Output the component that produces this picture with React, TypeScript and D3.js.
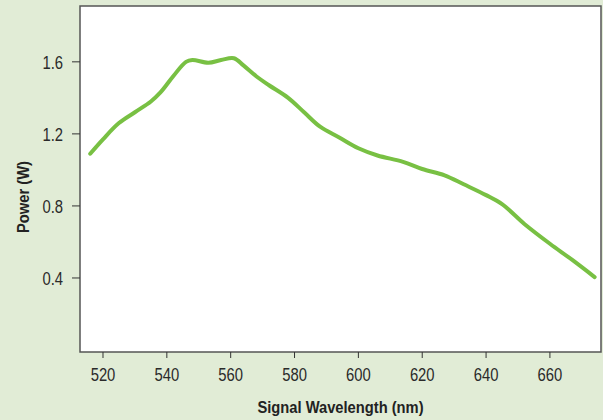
import React from "react";
import * as d3 from "d3";

const wavelengths = [516, 520, 525, 530, 535, 538, 542, 546, 548, 553, 557, 561, 564, 568, 572, 578, 583, 588, 594, 600, 606, 614, 620, 627, 633, 640, 645, 652, 660, 667, 674];
const power = [1.09, 1.17, 1.26, 1.32, 1.38, 1.43, 1.52, 1.6, 1.61, 1.595, 1.61, 1.62, 1.58, 1.52, 1.47, 1.4, 1.32, 1.24, 1.18, 1.12, 1.08, 1.045, 1.005, 0.97, 0.92, 0.86, 0.81, 0.7, 0.59, 0.5, 0.405];
const xTicks = [520, 540, 560, 580, 600, 620, 640, 660];
const yTicks = [0.4, 0.8, 1.2, 1.6];

const W = 603, H = 420;
const M = { left: 80, top: 6, right: 2, bottom: 68 };

export default function App() {
  const x = d3.scaleLinear().domain([512.8, 676]).range([M.left, W - M.right]);
  const y = d3.scaleLinear().domain([-0.011, 1.91]).range([H - M.bottom, M.top]);
  const pts = wavelengths.map((w, i) => [w, power[i]] as [number, number]);
  const line = d3.line<[number, number]>().x(d => x(d[0])).y(d => y(d[1])).curve(d3.curveCatmullRom.alpha(0.5));
  const font = "'Liberation Sans', Arial, sans-serif";
  const x0 = M.left, x1 = W - M.right, y0 = H - M.bottom, y1 = M.top;
  const sx = 0.78;
  return (
    <svg width={W} height={H} style={{ position: "absolute", left: 0, top: 0, display: "block" }}>
      <rect x={0} y={0} width={W} height={H} fill="#e1ecd6" />
      <rect x={x0} y={y1} width={x1 - x0} height={y0 - y1} fill="#ffffff" stroke="#555" strokeWidth={1.5} />
      {xTicks.map(t => (
        <g key={t}>
          <line x1={x(t)} x2={x(t)} y1={y0} y2={y0 + 6} stroke="#333" strokeWidth={1} />
          <text transform={`translate(${x(t)},380.5) scale(${sx},1)`} textAnchor="middle" fontFamily={font} fontSize={19} fill="#2a2a2a">{t}</text>
        </g>
      ))}
      {yTicks.map(t => (
        <g key={t}>
          <line x1={x0 - 8} x2={x0} y1={y(t)} y2={y(t)} stroke="#333" strokeWidth={1} />
          <text transform={`translate(${x0 - 17},${y(t) + 7}) scale(${sx},1)`} textAnchor="end" fontFamily={font} fontSize={19} fill="#2a2a2a">{t.toFixed(1)}</text>
        </g>
      ))}
      <path d={line(pts) || ""} fill="none" stroke="#78c043" strokeWidth={4} strokeLinecap="round" strokeLinejoin="round" />
      <text transform={`translate(${(x0 + x1) / 2},412.5) scale(0.92,1)`} textAnchor="middle" fontFamily={font} fontSize={16} fontWeight="bold" fill="#222">Signal Wavelength (nm)</text>
      <text transform={`translate(28.5, 197) rotate(-90) scale(0.92,1)`} textAnchor="middle" fontFamily={font} fontSize={16} fontWeight="bold" fill="#222">Power (W)</text>
    </svg>
  );
}
